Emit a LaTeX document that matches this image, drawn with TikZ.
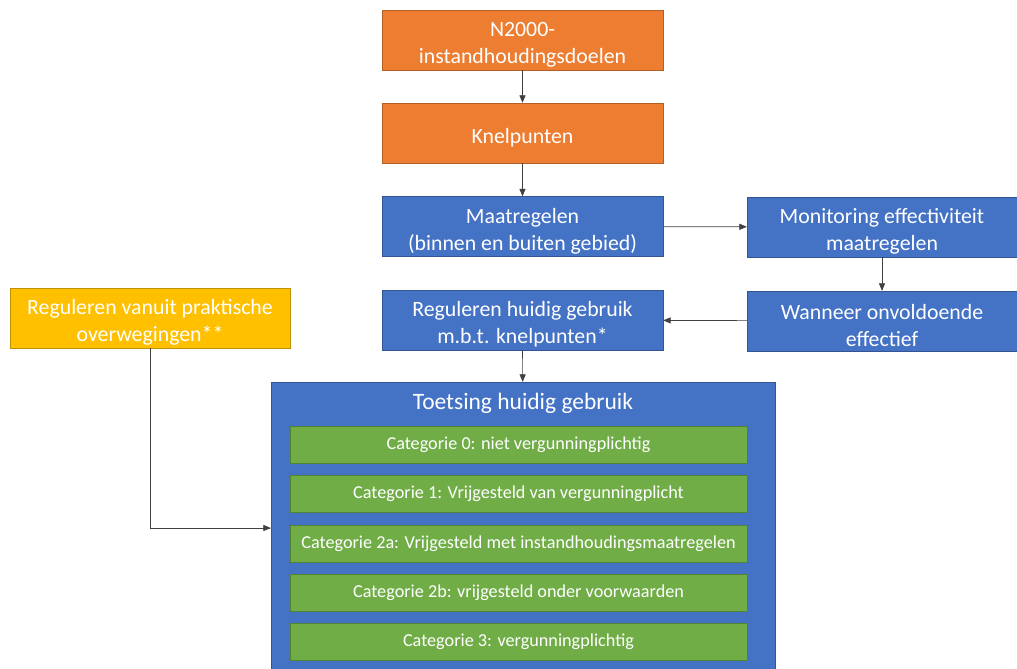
\documentclass[tikz,border=0pt]{standalone}
\usepackage{fontspec}
\setmainfont{Carlito}
\usetikzlibrary{arrows}
\definecolor{oranje}{HTML}{ED7D31}
\definecolor{blauw}{HTML}{4472C4}
\definecolor{groen}{HTML}{70AD47}
\definecolor{geel}{HTML}{FFC000}
\newcommand{\hoog}{\rule{0pt}{24pt}}
\tikzset{
	blok/.style={draw=#1!75!black, fill=#1, line width=0.5pt, text=white, align=center, inner sep=0pt,
		minimum width=281pt, minimum height=60pt, font=\fontsize{21.8}{27}\selectfont},
	cat/.style={draw=groen!75!black, fill=groen, line width=0.8pt, text=white, inner sep=0pt,
		minimum width=457pt, minimum height=37pt, font=\fontsize{18.2}{20}\selectfont},
	pijl/.style={->, >=triangle 45, draw=black!75, line width=0.7pt}
}

\begin{document}
\begin{tikzpicture}[x=1pt, y=-1pt]
	\useasboundingbox (0,0) rectangle (1017,669);
	\node[blok=oranje] (doelen) at (522.5,40) {\hoog N2000-\\instandhoudingsdoelen};
	\node[blok=oranje] (knelpunten) at (522.5,133) {\hoog Knelpunten};
	\node[blok=blauw] (maatregelen) at (522.5,226.5) {\hoog Maatregelen\\(binnen en buiten gebied)};
	\node[blok=blauw, minimum width=270pt] (monitoring) at (882,227) {\hoog Monitoring effectiviteit\\maatregelen};
	\node[blok=blauw, minimum width=270pt] (wanneer) at (882,321) {\hoog Wanneer onvoldoende\\effectief};
	\node[blok=blauw] (reguleren) at (522.5,320) {\hoog Reguleren huidig gebruik\\m.b.t. knelpunten*};
	\node[blok=geel, minimum width=280pt] (praktisch) at (150,318) {\hoog Reguleren vanuit praktische\\overwegingen**};
	% toetsing met categorieen
	\node[blok=blauw, minimum width=504pt, minimum height=292pt] (toetsing) at (523,528) {};
	\node[text=white, font=\fontsize{23.5}{26}\selectfont] (titel) at (523,403) {Toetsing huidig gebruik};
	\foreach \i/\y/\txt in {0/444.5/{Categorie 0: niet vergunningplichtig},
		1/493.5/{Categorie 1: Vrijgesteld van vergunningplicht},
		2/543.5/{Categorie 2a: Vrijgesteld met instandhoudingsmaatregelen},
		3/592.5/{Categorie 2b: vrijgesteld onder voorwaarden},
		4/641.5/{Categorie 3: vergunningplichtig}}{
		\node[cat] (cat\i) at (518.5,\y) {\txt};
	}
	\draw[pijl] (doelen) -- (knelpunten);
	\draw[pijl] (knelpunten) -- (maatregelen);
	\draw[pijl] (maatregelen) -- (monitoring);
	\draw[pijl] (monitoring) -- (wanneer);
	\draw[pijl] (wanneer) -- (reguleren);
	\draw[pijl] (reguleren) -- (toetsing);
	\draw[pijl] (praktisch.south) |- (toetsing.west);
\end{tikzpicture}
\end{document}
